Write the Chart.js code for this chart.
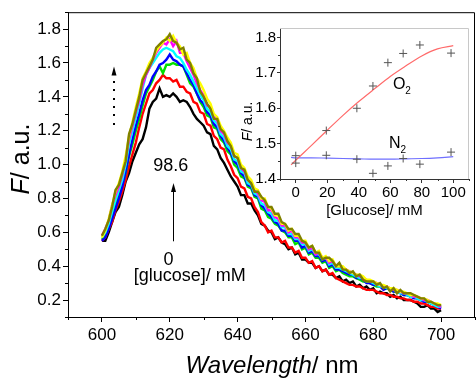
<!DOCTYPE html>
<html>
<head>
<meta charset="utf-8">
<script src="https://cdn.jsdelivr.net/npm/chart.js@4.4.1/dist/chart.umd.min.js"></script>
<style>
  html, body { margin: 0; padding: 0; background: #fff; }
  #wrap { position: relative; width: 476px; height: 379px; overflow: hidden; }
  #main { position: absolute; left: 0; top: 0; }
  #inset { position: absolute; left: 225px; top: 18px; }
</style>
</head>
<body>
<div id="wrap">
  <canvas id="main" width="476" height="379"></canvas>
  <canvas id="inset" width="250" height="205"></canvas>
</div>
<script>
// ===================================
// DATA
// ===================================
const wavelengths = [
  600, 601, 602, 603, 604, 605, 606, 607, 608, 609,
  610, 611, 612, 613, 614, 615, 616, 617, 618, 619,
  620, 621, 622, 623, 624, 625, 626, 627, 628, 629,
  630, 631, 632, 633, 634, 635, 636, 637, 638, 639,
  640, 641, 642, 643, 644, 645, 646, 647, 648, 649,
  650, 651, 652, 653, 654, 655, 656, 657, 658, 659,
  660, 661, 662, 663, 664, 665, 666, 667, 668, 669,
  670, 671, 672, 673, 674, 675, 676, 677, 678, 679,
  680, 681, 682, 683, 684, 685, 686, 687, 688, 689,
  690, 691, 692, 693, 694, 695, 696, 697, 698, 699,
  700
];

// glucose concentration of each spectrum (mM)
const glucoseLevels = [0, 19.4, 38.8, 49.0, 58.5, 68.2, 78.8, 98.6];

const spec0 = [
  0.55, 0.55, 0.60, 0.66, 0.72, 0.75, 0.82, 0.90, 0.95, 1.02,
  1.07, 1.12, 1.15, 1.22, 1.33, 1.37, 1.39, 1.45, 1.40, 1.41,
  1.40, 1.42, 1.40, 1.37, 1.38, 1.37, 1.34, 1.30, 1.27, 1.25,
  1.23, 1.19, 1.18, 1.11, 1.09, 1.04, 1.01, 0.97, 0.93, 0.90,
  0.87, 0.82, 0.82, 0.77, 0.77, 0.73, 0.70, 0.65, 0.64, 0.61,
  0.60, 0.56, 0.57, 0.54, 0.53, 0.50, 0.51, 0.47, 0.48, 0.44,
  0.44, 0.42, 0.42, 0.39, 0.40, 0.37, 0.38, 0.35, 0.35, 0.33,
  0.34, 0.31, 0.32, 0.30, 0.31, 0.28, 0.29, 0.27, 0.28, 0.26,
  0.27, 0.24, 0.25, 0.24, 0.24, 0.22, 0.23, 0.21, 0.22, 0.20,
  0.20, 0.20, 0.19, 0.18, 0.16, 0.16, 0.17, 0.15, 0.15, 0.13,
  0.14
];
const spec19 = [
  0.55, 0.57, 0.62, 0.66, 0.73, 0.78, 0.84, 0.91, 0.99, 1.06,
  1.13, 1.22, 1.30, 1.36, 1.42, 1.44, 1.48, 1.50, 1.53, 1.51,
  1.51, 1.49, 1.50, 1.46, 1.46, 1.43, 1.42, 1.37, 1.36, 1.31,
  1.30, 1.24, 1.23, 1.17, 1.15, 1.10, 1.09, 1.03, 0.99, 0.94,
  0.92, 0.87, 0.86, 0.81, 0.80, 0.75, 0.72, 0.66, 0.64, 0.60,
  0.61, 0.57, 0.57, 0.54, 0.55, 0.51, 0.51, 0.48, 0.49, 0.45,
  0.45, 0.42, 0.43, 0.39, 0.40, 0.37, 0.38, 0.35, 0.36, 0.33,
  0.32, 0.31, 0.30, 0.29, 0.29, 0.28, 0.28, 0.27, 0.26, 0.26,
  0.26, 0.25, 0.24, 0.24, 0.23, 0.23, 0.22, 0.22, 0.21, 0.21,
  0.20, 0.20, 0.19, 0.19, 0.18, 0.18, 0.17, 0.16, 0.16, 0.15,
  0.15
];
const spec39 = [
  0.56, 0.58, 0.63, 0.69, 0.76, 0.82, 0.88, 0.95, 1.05, 1.12,
  1.20, 1.27, 1.35, 1.42, 1.46, 1.50, 1.55, 1.58, 1.54, 1.59,
  1.59, 1.60, 1.59, 1.59, 1.58, 1.53, 1.48, 1.46, 1.42, 1.37,
  1.34, 1.29, 1.28, 1.22, 1.21, 1.15, 1.13, 1.08, 1.06, 1.00,
  0.98, 0.93, 0.92, 0.87, 0.86, 0.81, 0.80, 0.74, 0.73, 0.69,
  0.68, 0.65, 0.64, 0.61, 0.60, 0.57, 0.57, 0.53, 0.54, 0.50,
  0.51, 0.47, 0.48, 0.45, 0.45, 0.42, 0.43, 0.39, 0.40, 0.37,
  0.38, 0.36, 0.35, 0.34, 0.34, 0.33, 0.32, 0.31, 0.31, 0.30,
  0.29, 0.28, 0.28, 0.27, 0.27, 0.26, 0.25, 0.25, 0.24, 0.23,
  0.23, 0.22, 0.22, 0.21, 0.20, 0.20, 0.19, 0.18, 0.18, 0.17,
  0.16
];
const spec49 = [
  0.55, 0.57, 0.62, 0.68, 0.74, 0.80, 0.87, 0.96, 1.06, 1.15,
  1.23, 1.30, 1.38, 1.44, 1.47, 1.52, 1.55, 1.59, 1.60, 1.62,
  1.65, 1.62, 1.61, 1.59, 1.58, 1.54, 1.50, 1.47, 1.42, 1.38,
  1.36, 1.31, 1.29, 1.24, 1.22, 1.17, 1.14, 1.10, 1.07, 1.02,
  1.00, 0.95, 0.93, 0.88, 0.87, 0.82, 0.81, 0.76, 0.74, 0.71,
  0.69, 0.66, 0.65, 0.61, 0.61, 0.58, 0.58, 0.55, 0.55, 0.51,
  0.52, 0.48, 0.49, 0.46, 0.46, 0.43, 0.44, 0.40, 0.41, 0.38,
  0.38, 0.37, 0.36, 0.35, 0.35, 0.33, 0.33, 0.32, 0.30, 0.30,
  0.29, 0.29, 0.28, 0.26, 0.27, 0.26, 0.25, 0.25, 0.24, 0.23,
  0.23, 0.22, 0.21, 0.21, 0.20, 0.19, 0.19, 0.18, 0.17, 0.16,
  0.15
];
const spec58 = [
  0.57, 0.60, 0.65, 0.72, 0.79, 0.85, 0.91, 1.00, 1.12, 1.20,
  1.28, 1.36, 1.45, 1.53, 1.57, 1.60, 1.63, 1.66, 1.68, 1.69,
  1.68, 1.67, 1.64, 1.63, 1.60, 1.56, 1.53, 1.49, 1.45, 1.41,
  1.38, 1.33, 1.31, 1.26, 1.24, 1.18, 1.16, 1.11, 1.09, 1.03,
  1.02, 0.96, 0.95, 0.89, 0.88, 0.83, 0.82, 0.77, 0.76, 0.72,
  0.71, 0.67, 0.67, 0.63, 0.63, 0.59, 0.59, 0.56, 0.56, 0.53,
  0.53, 0.49, 0.50, 0.47, 0.47, 0.44, 0.45, 0.41, 0.42, 0.39,
  0.39, 0.38, 0.37, 0.36, 0.35, 0.34, 0.33, 0.33, 0.31, 0.31,
  0.30, 0.29, 0.28, 0.28, 0.27, 0.26, 0.26, 0.25, 0.24, 0.24,
  0.23, 0.22, 0.22, 0.21, 0.20, 0.20, 0.19, 0.18, 0.17, 0.16,
  0.16
];
const spec68 = [
  0.58, 0.62, 0.67, 0.76, 0.82, 0.87, 0.94, 1.03, 1.15, 1.23,
  1.31, 1.38, 1.47, 1.53, 1.57, 1.62, 1.66, 1.69, 1.72, 1.71,
  1.74, 1.70, 1.73, 1.66, 1.66, 1.61, 1.57, 1.53, 1.48, 1.44,
  1.41, 1.35, 1.34, 1.28, 1.26, 1.20, 1.18, 1.13, 1.11, 1.05,
  1.04, 0.98, 0.96, 0.91, 0.89, 0.85, 0.83, 0.79, 0.78, 0.73,
  0.73, 0.69, 0.68, 0.64, 0.64, 0.60, 0.61, 0.57, 0.57, 0.54,
  0.54, 0.50, 0.51, 0.47, 0.48, 0.45, 0.45, 0.42, 0.43, 0.40,
  0.40, 0.39, 0.38, 0.37, 0.36, 0.35, 0.34, 0.33, 0.32, 0.31,
  0.31, 0.30, 0.29, 0.28, 0.28, 0.27, 0.26, 0.26, 0.25, 0.24,
  0.24, 0.23, 0.22, 0.22, 0.21, 0.20, 0.20, 0.19, 0.18, 0.17,
  0.16
];
const spec78 = [
  0.57, 0.61, 0.68, 0.76, 0.84, 0.89, 0.96, 1.05, 1.17, 1.25,
  1.34, 1.42, 1.51, 1.55, 1.60, 1.63, 1.67, 1.70, 1.72, 1.75,
  1.73, 1.76, 1.72, 1.70, 1.65, 1.66, 1.60, 1.57, 1.51, 1.48,
  1.44, 1.39, 1.36, 1.30, 1.28, 1.23, 1.20, 1.16, 1.13, 1.07,
  1.06, 1.00, 0.98, 0.93, 0.91, 0.86, 0.85, 0.80, 0.80, 0.75,
  0.74, 0.70, 0.70, 0.65, 0.65, 0.61, 0.62, 0.58, 0.58, 0.55,
  0.55, 0.51, 0.52, 0.48, 0.49, 0.45, 0.46, 0.43, 0.44, 0.40,
  0.40, 0.40, 0.38, 0.37, 0.36, 0.35, 0.35, 0.34, 0.32, 0.32,
  0.31, 0.30, 0.29, 0.29, 0.28, 0.27, 0.27, 0.26, 0.25, 0.25,
  0.24, 0.23, 0.23, 0.22, 0.21, 0.21, 0.20, 0.19, 0.18, 0.18,
  0.17
];
const spec98 = [
  0.58, 0.62, 0.67, 0.75, 0.85, 0.88, 0.95, 1.02, 1.18, 1.24,
  1.32, 1.40, 1.50, 1.54, 1.58, 1.62, 1.69, 1.71, 1.73, 1.74,
  1.77, 1.73, 1.72, 1.68, 1.69, 1.62, 1.60, 1.54, 1.51, 1.43,
  1.40, 1.36, 1.33, 1.27, 1.27, 1.21, 1.19, 1.14, 1.11, 1.05,
  1.04, 0.98, 0.97, 0.91, 0.89, 0.84, 0.84, 0.81, 0.79, 0.75,
  0.75, 0.71, 0.71, 0.66, 0.65, 0.62, 0.62, 0.59, 0.59, 0.55,
  0.54, 0.51, 0.52, 0.48, 0.48, 0.44, 0.45, 0.45, 0.43, 0.40,
  0.42, 0.38, 0.38, 0.36, 0.37, 0.34, 0.35, 0.32, 0.31, 0.31,
  0.31, 0.29, 0.30, 0.27, 0.28, 0.25, 0.27, 0.24, 0.26, 0.24,
  0.24, 0.24, 0.23, 0.22, 0.21, 0.21, 0.19, 0.19, 0.18, 0.17,
  0.17
];

const spectra = [spec0, spec19, spec39, spec49, spec58, spec68, spec78, spec98];
const lineColors = ['#000000', '#ff0000', '#00e000', '#0000ff', '#00ffff', '#ff00ff', '#ffff00', '#808000'];

// main axes
const xTicks = [600, 620, 640, 660, 680, 700];
const xMinor = [590, 610, 630, 650, 670, 690, 710];
const yTicks = [0.2, 0.4, 0.6, 0.8, 1.0, 1.2, 1.4, 1.6, 1.8];
const yMinor = [0.1, 0.3, 0.5, 0.7, 0.9, 1.1, 1.3, 1.5, 1.7, 1.9];

// inset: fluorescence maximum vs glucose
const insetGlucose = [0, 19.4, 38.8, 49.0, 58.5, 68.2, 78.8, 98.6];
const insetO2 = [1.445, 1.537, 1.600, 1.663, 1.729, 1.755, 1.779, 1.756];
const insetN2 = [1.466, 1.467, 1.456, 1.416, 1.437, 1.458, 1.442, 1.476];
const fitX = [-3, 0, 10, 20, 30, 40, 50, 60, 70, 80, 90, 100];
const fitO2 = [1.440, 1.453, 1.495, 1.538, 1.580, 1.619, 1.655, 1.690, 1.720, 1.748, 1.768, 1.777];
const fitN2 = [1.461, 1.460, 1.460, 1.459, 1.458, 1.457, 1.456, 1.456, 1.457, 1.458, 1.460, 1.463];
const insetXTicks = [0, 20, 40, 60, 80, 100];
const insetXMinor = [-10, 10, 30, 50, 70, 90, 110];
const insetYTicks = [1.4, 1.5, 1.6, 1.7, 1.8];
const insetYMinor = [1.45, 1.55, 1.65, 1.75];

const FONT = 'Arial, "Liberation Sans", sans-serif';

// ===================================
// HELPERS
// ===================================
function arrowUp(ctx, x, tipY, halfW, len) {
    ctx.beginPath();
    ctx.moveTo(x, tipY);
    ctx.lineTo(x - halfW, tipY + len);
    ctx.lineTo(x + halfW, tipY + len);
    ctx.closePath();
    ctx.fill();
}

function mixedText(ctx, parts, x, y, align) {
    // parts: [[text, font], ...]
    let total = 0;
    parts.forEach(p => { ctx.font = p[1]; total += ctx.measureText(p[0]).width; });
    let cx = align === 'center' ? x - total / 2 : x;
    parts.forEach(p => {
        ctx.font = p[1];
        ctx.fillText(p[0], cx, y);
        cx += ctx.measureText(p[0]).width;
    });
}

// ===================================
// MAIN CHART DECORATION
// ===================================
const mainDecor = {
    id: 'mainDecor',
    afterDraw(chart) {
        const { ctx, chartArea: a, scales: { x, y } } = chart;
        ctx.save();
        ctx.strokeStyle = '#000';
        ctx.fillStyle = '#000';
        ctx.lineWidth = 1;

        // top and right frame
        ctx.beginPath();
        ctx.moveTo(a.left, a.top + 0.5);
        ctx.lineTo(a.right - 0.5, a.top + 0.5);
        ctx.lineTo(a.right - 0.5, a.bottom);
        ctx.stroke();

        // minor ticks
        ctx.beginPath();
        xMinor.forEach(v => {
            const px = Math.round(x.getPixelForValue(v)) + 0.5;
            ctx.moveTo(px, a.bottom);
            ctx.lineTo(px, a.bottom + 3);
        });
        yMinor.forEach(v => {
            const py = Math.round(y.getPixelForValue(v)) + 0.5;
            ctx.moveTo(a.left, py);
            ctx.lineTo(a.left - 3, py);
        });
        ctx.stroke();

        // dotted arrow (increasing glucose)
        const dx = Math.round(x.getPixelForValue(603.6));
        [1.24, 1.29, 1.34, 1.39, 1.44, 1.49].forEach(v => {
            ctx.fillRect(dx - 1, Math.round(y.getPixelForValue(v)) - 1, 2, 2);
        });
        arrowUp(ctx, dx, y.getPixelForValue(1.58), 2.5, 9);

        // solid arrow 0 -> 98.6
        const sx = Math.round(x.getPixelForValue(621)) + 0.5;
        ctx.beginPath();
        ctx.moveTo(sx, y.getPixelForValue(0.547));
        ctx.lineTo(sx, y.getPixelForValue(0.86));
        ctx.stroke();
        arrowUp(ctx, sx, y.getPixelForValue(0.892), 2.5, 9);

        ctx.textBaseline = 'alphabetic';
        ctx.textAlign = 'left';
        mixedText(ctx, [['98.6', '18px ' + FONT]], x.getPixelForValue(620.3), y.getPixelForValue(0.965), 'center');
        mixedText(ctx, [['0', '18px ' + FONT]], x.getPixelForValue(619.6), y.getPixelForValue(0.409), 'center');
        mixedText(ctx, [['[glucose]/ mM', '18px ' + FONT]], x.getPixelForValue(609.4), y.getPixelForValue(0.313), 'left');

        // axis titles
        mixedText(ctx, [['Wavelength', 'italic 24px ' + FONT], ['/ nm', '24px ' + FONT]], 272, 373, 'center');
        ctx.translate(29, 159);
        ctx.rotate(-Math.PI / 2);
        mixedText(ctx, [['F', 'italic 25px ' + FONT], ['/ a.u.', '25px ' + FONT]], 0, 0, 'center');
        ctx.restore();
    }
};

new Chart(document.getElementById('main'), {
    type: 'line',
    data: {
        datasets: spectra.map((s, i) => ({
            label: glucoseLevels[i] + ' mM',
            data: s.map((v, j) => ({ x: wavelengths[j], y: v })),
            borderColor: lineColors[i],
            borderWidth: 2.4,
            pointRadius: 0,
            tension: 0,
            fill: false,
            order: spectra.length - 1 - i
        }))
    },
    options: {
        responsive: false,
        animation: false,
        layout: { padding: { top: 12, right: 1, left: 0, bottom: 0 } },
        plugins: { legend: { display: false }, tooltip: { enabled: false } },
        scales: {
            x: {
                type: 'linear',
                min: 590,
                max: 710,
                afterBuildTicks: s => { s.ticks = xTicks.map(v => ({ value: v })); },
                afterFit: s => { s.height = 62; },
                grid: { drawOnChartArea: false, tickLength: 5, color: '#000', tickColor: '#000' },
                border: { color: '#000', width: 1 },
                ticks: { font: { size: 17, family: FONT }, color: '#000', padding: 3, maxRotation: 0, autoSkip: false }
            },
            y: {
                min: 0.1,
                max: 1.9,
                afterBuildTicks: s => { s.ticks = yTicks.map(v => ({ value: v })); },
                afterFit: s => { s.width = 68; },
                grid: { drawOnChartArea: false, tickLength: 5, color: '#000', tickColor: '#000' },
                border: { color: '#000', width: 1 },
                ticks: {
                    font: { size: 17, family: FONT }, color: '#000', padding: 2, autoSkip: false,
                    callback: v => v.toFixed(1)
                }
            }
        }
    },
    plugins: [mainDecor]
});

// ===================================
// INSET CHART
// ===================================
const insetDecor = {
    id: 'insetDecor',
    afterDraw(chart) {
        const { ctx, chartArea: a, scales: { x, y } } = chart;
        ctx.save();
        ctx.lineWidth = 1;
        ctx.strokeStyle = '#c8c8c8';
        ctx.beginPath();
        ctx.moveTo(a.left, a.top + 0.5);
        ctx.lineTo(a.right - 0.5, a.top + 0.5);
        ctx.lineTo(a.right - 0.5, a.bottom);
        ctx.stroke();

        ctx.strokeStyle = '#333';
        ctx.beginPath();
        insetXMinor.forEach(v => {
            const px = Math.round(x.getPixelForValue(v)) + 0.5;
            ctx.moveTo(px, a.bottom);
            ctx.lineTo(px, a.bottom + 2);
        });
        insetYMinor.forEach(v => {
            const py = Math.round(y.getPixelForValue(v)) + 0.5;
            ctx.moveTo(a.left, py);
            ctx.lineTo(a.left - 2, py);
        });
        ctx.stroke();

        ctx.fillStyle = '#000';
        ctx.textBaseline = 'alphabetic';
        // O2 / N2 labels
        const ox = x.getPixelForValue(61.7), oy = y.getPixelForValue(1.654);
        mixedText(ctx, [['O', '16px ' + FONT]], ox, oy, 'left');
        ctx.font = '16px ' + FONT;
        mixedText(ctx, [['2', '10px ' + FONT]], ox + ctx.measureText('O').width, oy + 5, 'left');
        const nx = x.getPixelForValue(59.2), ny = y.getPixelForValue(1.487);
        mixedText(ctx, [['N', '16px ' + FONT]], nx, ny, 'left');
        ctx.font = '16px ' + FONT;
        mixedText(ctx, [['2', '10px ' + FONT]], nx + ctx.measureText('N').width, ny + 5, 'left');

        mixedText(ctx, [['[Glucose]/ mM', '15px ' + FONT]], (a.left + a.right) / 2, a.bottom + 36, 'center');
        ctx.translate(a.left - 28, (a.top + a.bottom) / 2 + 18);
        ctx.rotate(-Math.PI / 2);
        mixedText(ctx, [['F', 'italic 14px ' + FONT], ['/ a.u.', '14px ' + FONT]], 0, 0, 'center');
        ctx.restore();
    }
};

new Chart(document.getElementById('inset'), {
    type: 'scatter',
    data: {
        datasets: [
            {
                data: insetGlucose.map((g, i) => ({ x: g, y: insetO2[i] })),
                pointStyle: 'cross', pointRadius: 4, borderColor: '#555', borderWidth: 1, showLine: false
            },
            {
                data: insetGlucose.map((g, i) => ({ x: g, y: insetN2[i] })),
                pointStyle: 'cross', pointRadius: 4, borderColor: '#555', borderWidth: 1, showLine: false
            },
            {
                data: fitX.map((g, i) => ({ x: g, y: fitO2[i] })),
                showLine: true, pointRadius: 0, borderColor: '#ff6a6a', borderWidth: 1.2,
                cubicInterpolationMode: 'monotone'
            },
            {
                data: fitX.map((g, i) => ({ x: g, y: fitN2[i] })),
                showLine: true, pointRadius: 0, borderColor: '#6f6fff', borderWidth: 1.2,
                cubicInterpolationMode: 'monotone'
            }
        ]
    },
    options: {
        responsive: false,
        animation: false,
        layout: { padding: { top: 8, right: 6, left: 0, bottom: 0 } },
        plugins: { legend: { display: false }, tooltip: { enabled: false } },
        scales: {
            x: {
                type: 'linear',
                min: -10,
                max: 110,
                afterBuildTicks: s => { s.ticks = insetXTicks.map(v => ({ value: v })); },
                afterFit: s => { s.height = 44; },
                grid: { drawOnChartArea: false, tickLength: 4, color: '#333', tickColor: '#333' },
                border: { color: '#333', width: 1 },
                ticks: { font: { size: 15, family: FONT }, color: '#000', padding: 1, maxRotation: 0, autoSkip: false }
            },
            y: {
                min: 1.4,
                max: 1.827,
                afterBuildTicks: s => { s.ticks = insetYTicks.map(v => ({ value: v })); },
                afterFit: s => { s.width = 55; },
                grid: { drawOnChartArea: false, tickLength: 3, color: '#333', tickColor: '#333' },
                border: { color: '#333', width: 1 },
                ticks: {
                    font: { size: 15, family: FONT }, color: '#000', padding: 1, autoSkip: false,
                    callback: v => v.toFixed(1)
                }
            }
        }
    },
    plugins: [insetDecor]
});
</script>
</body>
</html>
